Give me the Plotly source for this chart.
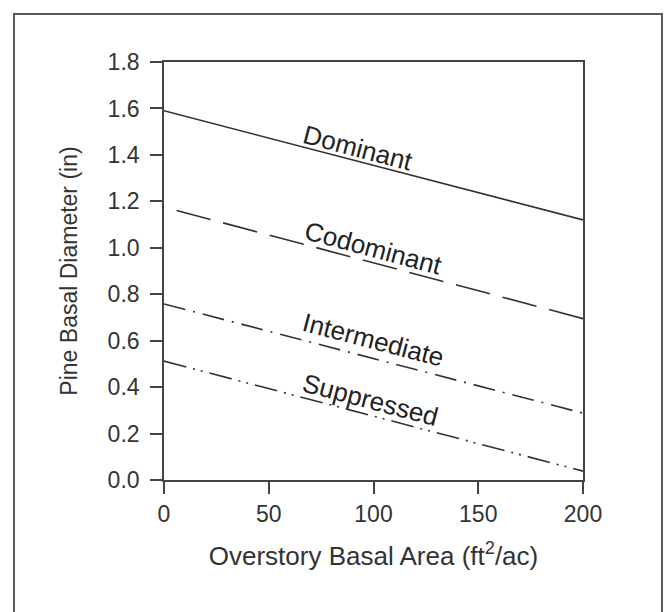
import math
import plotly.graph_objects as go

# Overstory basal area (ft^2/ac) at the two ends of each fitted line
basal_area = [0, 200]

# Predicted pine basal diameter (in) by crown class
dominant = [1.59, 1.12]
codominant = [1.175, 0.695]
intermediate = [0.758, 0.288]
suppressed = [0.512, 0.038]

classes = ["Dominant", "Codominant", "Intermediate", "Suppressed"]
series = [dominant, codominant, intermediate, suppressed]
dashes = [
    "solid",
    "0px,13px,35.18px,0px",
    "22px,8px,2px,8px",
    "23px,7px,2px,6px,2px,7px",
]

# Where each class name sits along its line
label_x = [92.6, 99.8, 100.2, 98.8]
label_y = [1.43, 0.999, 0.603, 0.345]

x_range = [0, 200]
y_range = [0, 1.8]
x_ticks = [0, 50, 100, 150, 200]
y_ticks = [0.0, 0.2, 0.4, 0.6, 0.8, 1.0, 1.2, 1.4, 1.6, 1.8]

W, H = 666, 612
ML, MR, MT, MB = 164, 83, 62, 132
plot_w = W - ML - MR
plot_h = H - MT - MB

ink = "#333333"
font_family = "Liberation Sans, Arial, sans-serif"

fig = go.Figure()
for name, ys, dash in zip(classes, series, dashes):
    fig.add_trace(go.Scatter(
        x=basal_area, y=ys, mode="lines", name=name,
        line=dict(color=ink, width=1.6, dash=dash),
        showlegend=False, hoverinfo="skip",
    ))

for name, ys, lx, ly in zip(classes, series, label_x, label_y):
    dy_px = (ys[0] - ys[1]) / (y_range[1] - y_range[0]) * plot_h
    dx_px = (basal_area[1] - basal_area[0]) / (x_range[1] - x_range[0]) * plot_w
    angle = math.degrees(math.atan2(dy_px, dx_px))
    fig.add_annotation(
        x=lx, y=ly, text=name, showarrow=False, textangle=angle,
        font=dict(family=font_family, size=26, color="#222222"),
    )

# Open frame around the figure (left, top and right edges)
fx0 = (14 - ML) / plot_w
fx1 = (662 - ML) / plot_w
fy_top = (H - 14 - MB) / plot_h
fy_bot = -MB / plot_h - 0.05
fig.add_shape(
    type="path", xref="paper", yref="paper",
    path=f"M {fx0} {fy_bot} L {fx0} {fy_top} L {fx1} {fy_top} L {fx1} {fy_bot}",
    line=dict(color="#5a5a5a", width=2),
)

axis_common = dict(
    showline=True, linecolor="#444444", linewidth=1.6, mirror=True,
    ticks="outside", ticklen=12, tickwidth=1.6, tickcolor="#444444",
    showgrid=False, zeroline=False,
    tickfont=dict(family=font_family, size=23, color=ink),
)

fig.update_layout(
    width=W, height=H,
    margin=dict(l=ML, r=MR, t=MT, b=MB),
    paper_bgcolor="white", plot_bgcolor="white",
    xaxis=dict(
        range=x_range, tickvals=x_ticks, ticktext=[str(v) for v in x_ticks],
        title=dict(text="Overstory Basal Area (ft<sup>2</sup>/ac)",
                   font=dict(family=font_family, size=26, color=ink), standoff=20),
        ticklabelstandoff=1,
        **axis_common,
    ),
    yaxis=dict(
        range=y_range, tickvals=y_ticks, ticktext=[f"{v:.1f}" for v in y_ticks],
        title=dict(text="Pine Basal Diameter (in)",
                   font=dict(family=font_family, size=23, color=ink), standoff=24),
        ticklabelstandoff=6,
        **axis_common,
    ),
)

fig.write_html("out.html")
